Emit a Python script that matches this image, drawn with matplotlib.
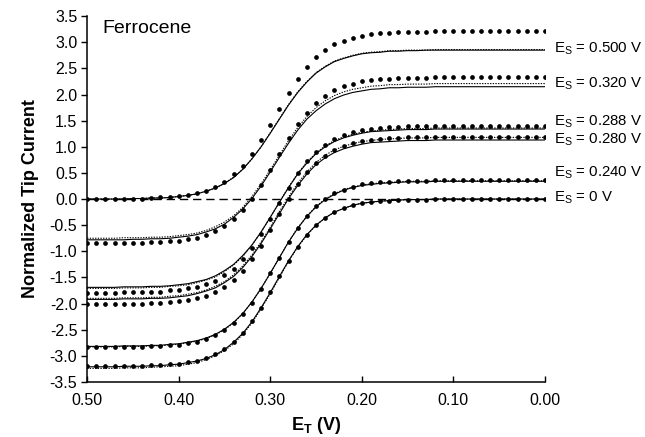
import matplotlib
matplotlib.use("Agg")
import matplotlib.pyplot as plt

plt.rcParams['font.family'] = ['Liberation Sans', 'DejaVu Sans']
plt.rcParams['mathtext.fontset'] = 'custom'
plt.rcParams['mathtext.rm'] = 'Liberation Sans'
plt.rcParams['mathtext.bf'] = 'Liberation Sans:bold'
plt.rcParams['axes.unicode_minus'] = False

# tip potential, V (0.50 -> 0.00)
e_tip = [0.50, 0.49, 0.48, 0.47, 0.46, 0.45, 0.44, 0.43, 0.42, 0.41,
         0.40, 0.39, 0.38, 0.37, 0.36, 0.35, 0.34, 0.33, 0.32, 0.31,
         0.30, 0.29, 0.28, 0.27, 0.26, 0.25, 0.24, 0.23, 0.22, 0.21,
         0.20, 0.19, 0.18, 0.17, 0.16, 0.15, 0.14, 0.13, 0.12, 0.11,
         0.10, 0.09, 0.08, 0.07, 0.06, 0.05, 0.04, 0.03, 0.02, 0.01, 0.00]

# Es = 0.500 V
dots_500 = [0.00, 0.00, 0.00, 0.00, 0.01, 0.01, 0.01, 0.02, 0.03, 0.04,
            0.05, 0.08, 0.11, 0.16, 0.23, 0.33, 0.47, 0.64, 0.86, 1.13,
            1.42, 1.73, 2.03, 2.30, 2.53, 2.71, 2.85, 2.96, 3.03, 3.09,
            3.13, 3.15, 3.17, 3.18, 3.19, 3.20, 3.20, 3.20, 3.21, 3.21,
            3.21, 3.21, 3.21, 3.21, 3.21, 3.21, 3.21, 3.21, 3.21, 3.21, 3.21]
solid_500 = [0.00, 0.00, 0.00, 0.00, 0.00, 0.01, 0.01, 0.02, 0.02, 0.03,
             0.05, 0.07, 0.10, 0.15, 0.21, 0.30, 0.41, 0.57, 0.77, 1.00,
             1.26, 1.53, 1.80, 2.04, 2.24, 2.41, 2.53, 2.63, 2.69, 2.74,
             2.78, 2.80, 2.81, 2.83, 2.83, 2.84, 2.84, 2.85, 2.85, 2.85,
             2.85, 2.85, 2.85, 2.85, 2.85, 2.85, 2.85, 2.85, 2.85, 2.85, 2.85]
dotted_500 = [0.00, 0.00, 0.00, 0.00, 0.00, 0.01, 0.01, 0.02, 0.02, 0.03,
              0.05, 0.07, 0.10, 0.15, 0.21, 0.30, 0.42, 0.57, 0.77, 1.00,
              1.27, 1.54, 1.81, 2.05, 2.25, 2.42, 2.54, 2.64, 2.70, 2.75,
              2.79, 2.81, 2.82, 2.84, 2.84, 2.85, 2.85, 2.85, 2.86, 2.86,
              2.86, 2.86, 2.86, 2.86, 2.86, 2.86, 2.86, 2.86, 2.86, 2.86, 2.86]

# Es = 0.320 V
dots_320 = [-0.85, -0.85, -0.85, -0.85, -0.84, -0.84, -0.84, -0.83, -0.83, -0.81,
            -0.80, -0.77, -0.74, -0.69, -0.62, -0.52, -0.39, -0.21, 0.01, 0.27,
            0.56, 0.86, 1.16, 1.43, 1.65, 1.84, 1.98, 2.08, 2.16, 2.21,
            2.25, 2.27, 2.29, 2.30, 2.31, 2.32, 2.32, 2.32, 2.33, 2.33,
            2.33, 2.33, 2.33, 2.33, 2.33, 2.33, 2.33, 2.33, 2.33, 2.33, 2.33]
solid_320 = [-0.78, -0.78, -0.78, -0.78, -0.78, -0.77, -0.77, -0.76, -0.76, -0.75,
             -0.73, -0.71, -0.68, -0.63, -0.57, -0.48, -0.35, -0.19, 0.01, 0.25,
             0.52, 0.80, 1.07, 1.32, 1.53, 1.69, 1.82, 1.92, 1.99, 2.04,
             2.07, 2.10, 2.11, 2.13, 2.13, 2.14, 2.14, 2.14, 2.15, 2.15,
             2.15, 2.15, 2.15, 2.15, 2.15, 2.15, 2.15, 2.15, 2.15, 2.15, 2.15]
dotted_320 = [-0.75, -0.75, -0.75, -0.75, -0.74, -0.74, -0.74, -0.73, -0.73, -0.72,
              -0.70, -0.68, -0.65, -0.60, -0.53, -0.44, -0.32, -0.16, 0.05, 0.29,
              0.56, 0.84, 1.12, 1.37, 1.58, 1.75, 1.88, 1.98, 2.05, 2.10,
              2.13, 2.16, 2.17, 2.19, 2.19, 2.20, 2.20, 2.20, 2.21, 2.21,
              2.21, 2.21, 2.21, 2.21, 2.21, 2.21, 2.21, 2.21, 2.21, 2.21, 2.21]

# Es = 0.288 V
dots_288 = [-1.79, -1.79, -1.79, -1.79, -1.78, -1.78, -1.78, -1.77, -1.77, -1.75,
            -1.74, -1.71, -1.68, -1.63, -1.56, -1.46, -1.33, -1.15, -0.93, -0.67,
            -0.38, -0.07, 0.22, 0.49, 0.72, 0.90, 1.04, 1.15, 1.22, 1.28,
            1.32, 1.34, 1.36, 1.37, 1.38, 1.39, 1.39, 1.39, 1.40, 1.40,
            1.40, 1.40, 1.40, 1.40, 1.40, 1.40, 1.40, 1.40, 1.40, 1.40, 1.40]
solid_288 = [-1.69, -1.69, -1.69, -1.69, -1.68, -1.68, -1.68, -1.67, -1.67, -1.66,
             -1.64, -1.62, -1.58, -1.54, -1.47, -1.37, -1.25, -1.08, -0.88, -0.63,
             -0.35, -0.06, 0.22, 0.48, 0.69, 0.87, 1.00, 1.10, 1.17, 1.22,
             1.26, 1.29, 1.30, 1.31, 1.32, 1.33, 1.33, 1.33, 1.34, 1.34,
             1.34, 1.34, 1.34, 1.34, 1.34, 1.34, 1.34, 1.34, 1.34, 1.34, 1.34]
dotted_288 = [-1.71, -1.71, -1.71, -1.71, -1.70, -1.70, -1.70, -1.69, -1.69, -1.67,
              -1.66, -1.64, -1.60, -1.55, -1.49, -1.39, -1.26, -1.10, -0.88, -0.63,
              -0.35, -0.06, 0.23, 0.49, 0.71, 0.88, 1.02, 1.12, 1.19, 1.24,
              1.28, 1.30, 1.32, 1.33, 1.34, 1.35, 1.35, 1.35, 1.36, 1.36,
              1.36, 1.36, 1.36, 1.36, 1.36, 1.36, 1.36, 1.36, 1.36, 1.36, 1.36]

# Es = 0.280 V
dots_280 = [-2.01, -2.01, -2.01, -2.01, -2.00, -2.00, -2.00, -1.99, -1.98, -1.97,
            -1.96, -1.93, -1.90, -1.85, -1.78, -1.68, -1.54, -1.37, -1.15, -0.89,
            -0.59, -0.29, 0.01, 0.28, 0.51, 0.69, 0.83, 0.94, 1.01, 1.07,
            1.11, 1.13, 1.15, 1.16, 1.17, 1.18, 1.18, 1.18, 1.19, 1.19,
            1.19, 1.19, 1.19, 1.19, 1.19, 1.19, 1.19, 1.19, 1.19, 1.19, 1.19]
solid_280 = [-1.92, -1.92, -1.92, -1.92, -1.91, -1.91, -1.91, -1.90, -1.90, -1.89,
             -1.87, -1.85, -1.81, -1.76, -1.70, -1.60, -1.48, -1.31, -1.10, -0.85,
             -0.57, -0.28, 0.01, 0.26, 0.48, 0.66, 0.79, 0.89, 0.96, 1.01,
             1.05, 1.08, 1.09, 1.10, 1.11, 1.12, 1.12, 1.12, 1.13, 1.13,
             1.13, 1.13, 1.13, 1.13, 1.13, 1.13, 1.13, 1.13, 1.13, 1.13, 1.13]
dotted_280 = [-1.90, -1.90, -1.90, -1.90, -1.89, -1.89, -1.89, -1.88, -1.88, -1.86,
              -1.85, -1.82, -1.79, -1.74, -1.67, -1.58, -1.45, -1.28, -1.07, -0.82,
              -0.54, -0.24, 0.04, 0.30, 0.52, 0.70, 0.84, 0.94, 1.01, 1.06,
              1.10, 1.12, 1.14, 1.15, 1.16, 1.17, 1.17, 1.17, 1.18, 1.18,
              1.18, 1.18, 1.18, 1.18, 1.18, 1.18, 1.18, 1.18, 1.18, 1.18, 1.18]

# Es = 0.240 V
dots_240 = [-2.84, -2.84, -2.84, -2.84, -2.83, -2.83, -2.83, -2.82, -2.81, -2.80,
            -2.79, -2.76, -2.73, -2.68, -2.61, -2.51, -2.37, -2.20, -1.98, -1.72,
            -1.42, -1.12, -0.82, -0.55, -0.32, -0.14, 0.00, 0.11, 0.18, 0.24,
            0.28, 0.30, 0.32, 0.33, 0.34, 0.35, 0.35, 0.35, 0.36, 0.36,
            0.36, 0.36, 0.36, 0.36, 0.36, 0.36, 0.36, 0.36, 0.36, 0.36, 0.36]
solid_240 = [-2.82, -2.82, -2.82, -2.82, -2.81, -2.81, -2.81, -2.80, -2.80, -2.78,
             -2.77, -2.74, -2.71, -2.66, -2.59, -2.49, -2.36, -2.19, -1.97, -1.71,
             -1.42, -1.12, -0.82, -0.56, -0.33, -0.15, -0.01, 0.09, 0.17, 0.22,
             0.26, 0.28, 0.30, 0.31, 0.32, 0.33, 0.33, 0.33, 0.34, 0.34,
             0.34, 0.34, 0.34, 0.34, 0.34, 0.34, 0.34, 0.34, 0.34, 0.34, 0.34]
dotted_240 = [-2.83, -2.83, -2.83, -2.83, -2.82, -2.82, -2.82, -2.81, -2.81, -2.79,
              -2.78, -2.75, -2.72, -2.67, -2.60, -2.50, -2.37, -2.19, -1.97, -1.71,
              -1.42, -1.12, -0.82, -0.55, -0.33, -0.14, 0.00, 0.10, 0.18, 0.23,
              0.27, 0.29, 0.31, 0.32, 0.33, 0.34, 0.34, 0.34, 0.35, 0.35,
              0.35, 0.35, 0.35, 0.35, 0.35, 0.35, 0.35, 0.35, 0.35, 0.35, 0.35]

# Es = 0 V
dots_0 = [-3.20, -3.20, -3.20, -3.20, -3.19, -3.19, -3.19, -3.18, -3.17, -3.16,
          -3.15, -3.12, -3.09, -3.04, -2.97, -2.87, -2.73, -2.56, -2.34, -2.08,
          -1.78, -1.48, -1.18, -0.91, -0.68, -0.50, -0.36, -0.25, -0.18, -0.12,
          -0.08, -0.06, -0.04, -0.03, -0.02, -0.01, -0.01, -0.01, 0.00, 0.00,
          0.00, 0.00, 0.00, 0.00, 0.00, 0.00, 0.00, 0.00, 0.00, 0.00, 0.00]
solid_0 = [-3.21, -3.21, -3.21, -3.21, -3.20, -3.20, -3.20, -3.19, -3.19, -3.17,
           -3.16, -3.13, -3.10, -3.05, -2.98, -2.88, -2.74, -2.57, -2.35, -2.08,
           -1.79, -1.48, -1.18, -0.91, -0.68, -0.50, -0.36, -0.25, -0.18, -0.12,
           -0.08, -0.06, -0.04, -0.03, -0.02, -0.01, -0.01, -0.01, 0.00, 0.00,
           0.00, 0.00, 0.00, 0.00, 0.00, 0.00, 0.00, 0.00, 0.00, 0.00, 0.00]
dotted_0 = [-3.24, -3.24, -3.24, -3.24, -3.23, -3.23, -3.23, -3.22, -3.21, -3.20,
            -3.19, -3.16, -3.13, -3.07, -3.00, -2.90, -2.77, -2.59, -2.37, -2.10,
            -1.81, -1.50, -1.19, -0.92, -0.69, -0.50, -0.36, -0.25, -0.18, -0.12,
            -0.08, -0.06, -0.04, -0.03, -0.02, -0.01, -0.01, -0.01, 0.00, 0.00,
            0.00, 0.00, 0.00, 0.00, 0.00, 0.00, 0.00, 0.00, 0.00, 0.00, 0.00]

labels = ['0.500 V', '0.320 V', '0.288 V', '0.280 V', '0.240 V', '0 V']
label_y = [2.88, 2.21, 1.49, 1.14, 0.51, 0.02]

curves = [
    (dots_500, solid_500, dotted_500),
    (dots_320, solid_320, dotted_320),
    (dots_288, solid_288, dotted_288),
    (dots_280, solid_280, dotted_280),
    (dots_240, solid_240, dotted_240),
    (dots_0, solid_0, dotted_0),
]

fig = plt.figure(figsize=(6.45, 4.37), dpi=100)
ax = fig.add_axes([0.135, 0.126, 0.710, 0.837])

ax.axhline(0, color='black', lw=1.0, dashes=(6, 3.5), zorder=1)

for dots, solid, dotted in curves:
    ax.plot(e_tip, dotted, color='black', lw=0.8, ls=(0, (1.2, 1.2)), zorder=2)
    ax.plot(e_tip, solid, color='black', lw=0.8, zorder=2)
    ax.plot(e_tip, dots, 'o', color='black', ms=3.4, mew=0, zorder=3)

for lab, yy in zip(labels, label_y):
    ax.text(-0.010, yy, r'E$_{\mathregular{S}}$ = ' + lab, fontsize=10.8,
            ha='left', va='center', clip_on=False)

ax.text(0.483, 3.27, 'Ferrocene', fontsize=14, ha='left', va='center')

ax.set_xlim(0.5, 0.0)
ax.set_ylim(-3.5, 3.5)
ax.set_xticks([0.5, 0.4, 0.3, 0.2, 0.1, 0.0])
ax.set_xticklabels(['0.50', '0.40', '0.30', '0.20', '0.10', '0.00'])
yt = [-3.5, -3.0, -2.5, -2.0, -1.5, -1.0, -0.5, 0.0, 0.5, 1.0, 1.5, 2.0, 2.5, 3.0, 3.5]
ax.set_yticks(yt)
ax.set_yticklabels(['%.1f' % v for v in yt])
ax.tick_params(axis='x', direction='in', length=4, width=1, labelsize=11.5, pad=8)
ax.tick_params(axis='y', direction='out', length=4, width=1, labelsize=11.5, pad=3)

for s in ['top', 'right']:
    ax.spines[s].set_visible(False)
for s in ['left', 'bottom']:
    ax.spines[s].set_linewidth(1.1)

ax.set_ylabel('Normalized Tip Current', fontsize=13, fontweight='bold', labelpad=8)
ax.set_xlabel(r'E$_{\mathbf{T}}$ (V)', fontsize=13, fontweight='bold', labelpad=5)

fig.savefig('out.png', dpi=100)
